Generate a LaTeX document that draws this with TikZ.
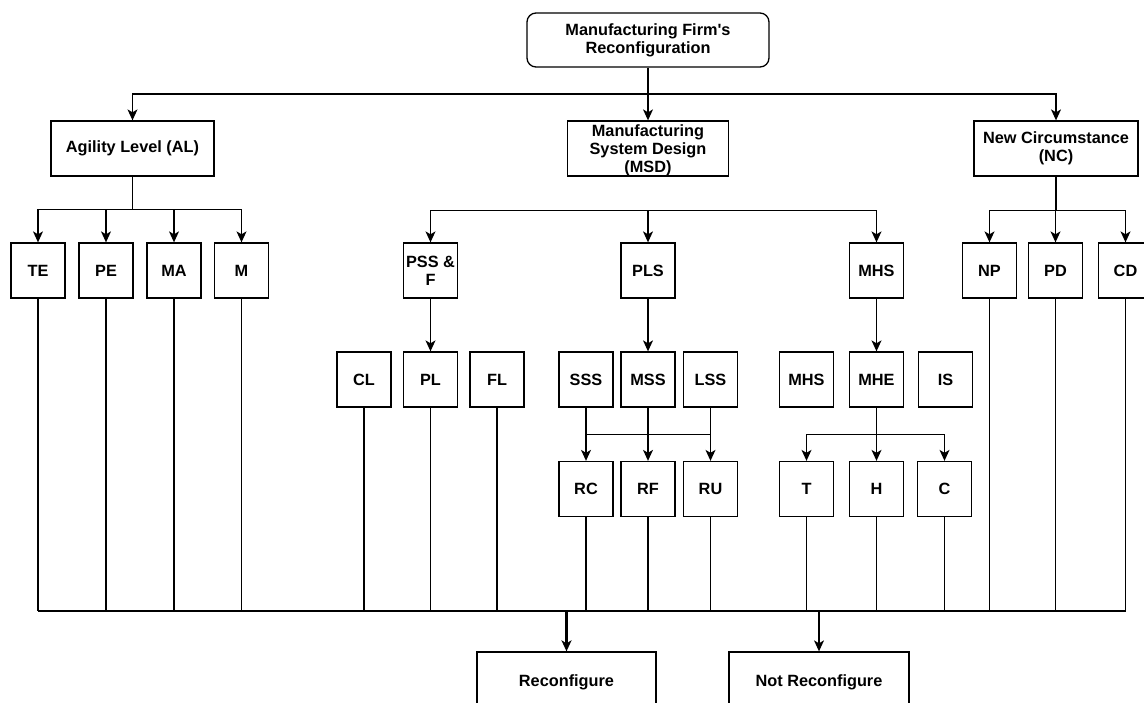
\documentclass[tikz,border=0pt]{standalone}
\usepackage{fontspec}
\setmainfont{Liberation Sans}
\usetikzlibrary{arrows.meta,calc}
\begin{document}
\begin{tikzpicture}[x=1pt,y=-1pt,
  line/.style={draw=black,line width=1.3pt},
  arr/.style={line,-{Stealth[length=11pt,width=10pt,inset=3pt]}},
  boldarr/.style={arr,line width=2.2pt},
  txt/.style={font=\fontsize{16.3}{18}\selectfont\bfseries,align=center,inner sep=0pt},
  box/.style={txt,draw,line width=1.3pt,minimum width=54pt,minimum height=55pt},
  wide/.style={box,minimum height=55pt},
  toproot/.style={box,rounded corners=9pt,minimum width=242pt,minimum height=54pt}]
\useasboundingbox (0,0) rectangle (1144,702);
\clip (0,0) rectangle (1144,702);

% root and first level
\node[toproot] (top) at (648,40) {Manufacturing Firm\textquotesingle s\\Reconfiguration};
\node[wide,minimum width=163pt] (al) at (132.5,148.5) {Agility Level (AL)};
\node[wide,minimum width=161pt] (msd) at (648,148.5) {};
\node[txt] (msdt) at (648,150) {Manufacturing\\System Design\\(MSD)};
\node[wide,minimum width=164pt] (nc) at (1056,148.5) {New Circumstance\\(NC)};

% second level
\node[box] (te) at (38,270.5) {TE};
\node[box] (pe) at (106,270.5) {PE};
\node[box] (ma) at (174,270.5) {MA};
\node[box] (m) at (241.5,270.5) {M};
\node[box] (pssf) at (430.5,270.5) {PSS \&\\F};
\node[box] (pls) at (648,270.5) {PLS};
\node[box] (mhs) at (876.5,270.5) {MHS};
\node[box] (np) at (989.5,270.5) {NP};
\node[box] (pd) at (1055.5,270.5) {PD};
\node[box] (cd) at (1125.5,270.5) {CD};

% third level
\node[box] (cl) at (364,379.5) {CL};
\node[box] (pl) at (430.5,379.5) {PL};
\node[box] (fl) at (497,379.5) {FL};
\node[box] (sss) at (586,379.5) {SSS};
\node[box] (mss) at (648,379.5) {MSS};
\node[box] (lss) at (710.5,379.5) {LSS};
\node[box] (mhsb) at (806.5,379.5) {MHS};
\node[box] (mhe) at (876.5,379.5) {MHE};
\node[box] (is) at (945.5,379.5) {IS};

% fourth level
\node[box] (rc) at (586,489) {RC};
\node[box] (rf) at (648,489) {RF};
\node[box] (ru) at (710.5,489) {RU};
\node[box] (t) at (806.5,489) {T};
\node[box] (h) at (876.5,489) {H};
\node[box] (c) at (944.5,489) {C};

% outcomes
\node[box,minimum width=179pt,minimum height=60pt] (reconf) at (566.5,682) {Reconfigure};
\node[box,minimum width=180pt,minimum height=60pt] (notre) at (819,682) {Not Reconfigure};

% junction points
\coordinate (j0) at (648,94);
\path (al.south) ++(0,33) coordinate (ja);
\path (msd.south) ++(0,34) coordinate (jm);
\path (nc.south) ++(0,34) coordinate (jn);
\coordinate (js) at ($(sss.south)!0.5!(rc.north)$);
\coordinate (jh) at ($(mhe.south)!0.5!(h.north)$);
\coordinate (bus) at (0,611);

% root to first level
\draw[arr] (top.south) -- (msd.north);
\draw[arr] (j0) -| (al.north);
\draw[arr] (j0) -| (nc.north);

% first to second level
\draw[line] (al.south) -- (ja);
\foreach \n in {te,pe,ma,m} \draw[arr] (ja) -| (\n.north);
\foreach \n in {pssf,pls,mhs} \draw[arr] (jm) -| (\n.north);
\draw[line] (nc.south) -- (jn);
\foreach \n in {np,pd,cd} \draw[arr] (jn) -| (\n.north);

% second to third level
\draw[arr] (pssf.south) -- (pl.north);
\draw[arr] (pls.south) -- (mss.north);
\draw[arr] (mhs.south) -- (mhe.north);

% third to fourth level
\draw[arr] (sss.south) -- (rc.north);
\draw[arr] (mss.south) -- (rf.north);
\draw[arr] (lss.south) -- (ru.north);
\draw[line] (js) -| (lss.south);
\draw[line] (mhe.south) -- (jh);
\draw[arr] (jh) -| (t.north);
\draw[arr] (jh) -- (h.north);
\draw[arr] (jh) -| (c.north);

% collecting bus
\foreach \n in {te,pe,ma,m,cl,pl,fl,rc,rf,ru,t,h,c,np,pd,cd}
  \draw[line] (\n.south) -- (\n.south |- bus);
\draw[line] (te.south |- bus) -- (cd.south |- bus);
\draw[boldarr] (reconf.north |- bus) -- (reconf.north);
\draw[arr] (notre.north |- bus) -- (notre.north);
\end{tikzpicture}
\end{document}
